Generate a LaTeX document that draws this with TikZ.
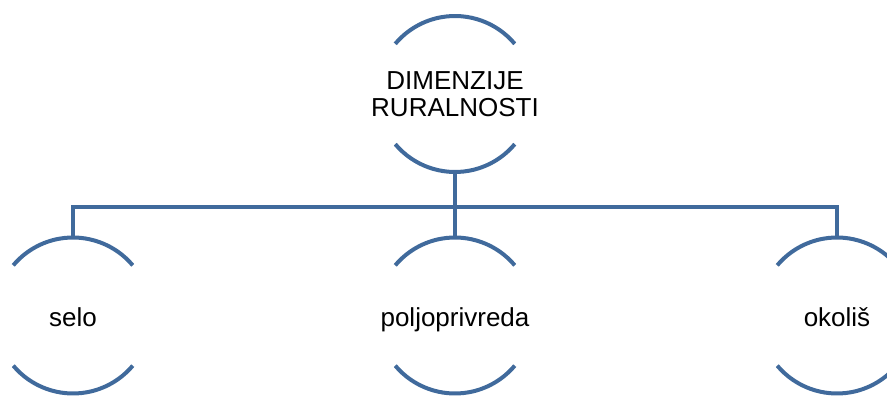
\documentclass[tikz,border=0pt]{standalone}
\usepackage{fontspec}
\setmainfont{Liberation Sans}
\definecolor{ringblue}{RGB}{64,106,156}
\begin{document}
\begin{tikzpicture}[x=1pt,y=1pt,
        ring/.style={circle,minimum size=156pt,inner sep=0pt,outer sep=0pt},
        ringtext/.style={font=\fontsize{26}{27}\selectfont,align=center},
        leaftext/.style={ringtext,text height=22pt,text depth=0pt}]
    \useasboundingbox (0,0) rectangle (887,396);

    \node [ring] (top) at (455,302) {};
    \node [ring] (selo) at (73,80.5) {};
    \node [ring] (polj) at (455,80.5) {};
    \node [ring] (okolis) at (837,80.5) {};

    \begin{scope}[line width=4pt,color=ringblue]
        \foreach \n in {top,selo,polj,okolis}{%
                \draw (\n.40) arc[start angle=40,end angle=140,radius=78];
                \draw (\n.220) arc[start angle=220,end angle=320,radius=78];}

        \coordinate (bar) at (455,189);
        \draw (top.south) -- (polj.north);
        \draw (selo.north) |- (bar) -| (okolis.north);
    \end{scope}

    \node [ringtext] at (top) {DIMENZIJE\\RURALNOSTI};
    \node [leaftext] at (selo) {selo};
    \node [leaftext] at (polj) {poljoprivreda};
    \node [leaftext] at (okolis) {okoliš};
\end{tikzpicture}
\end{document}
